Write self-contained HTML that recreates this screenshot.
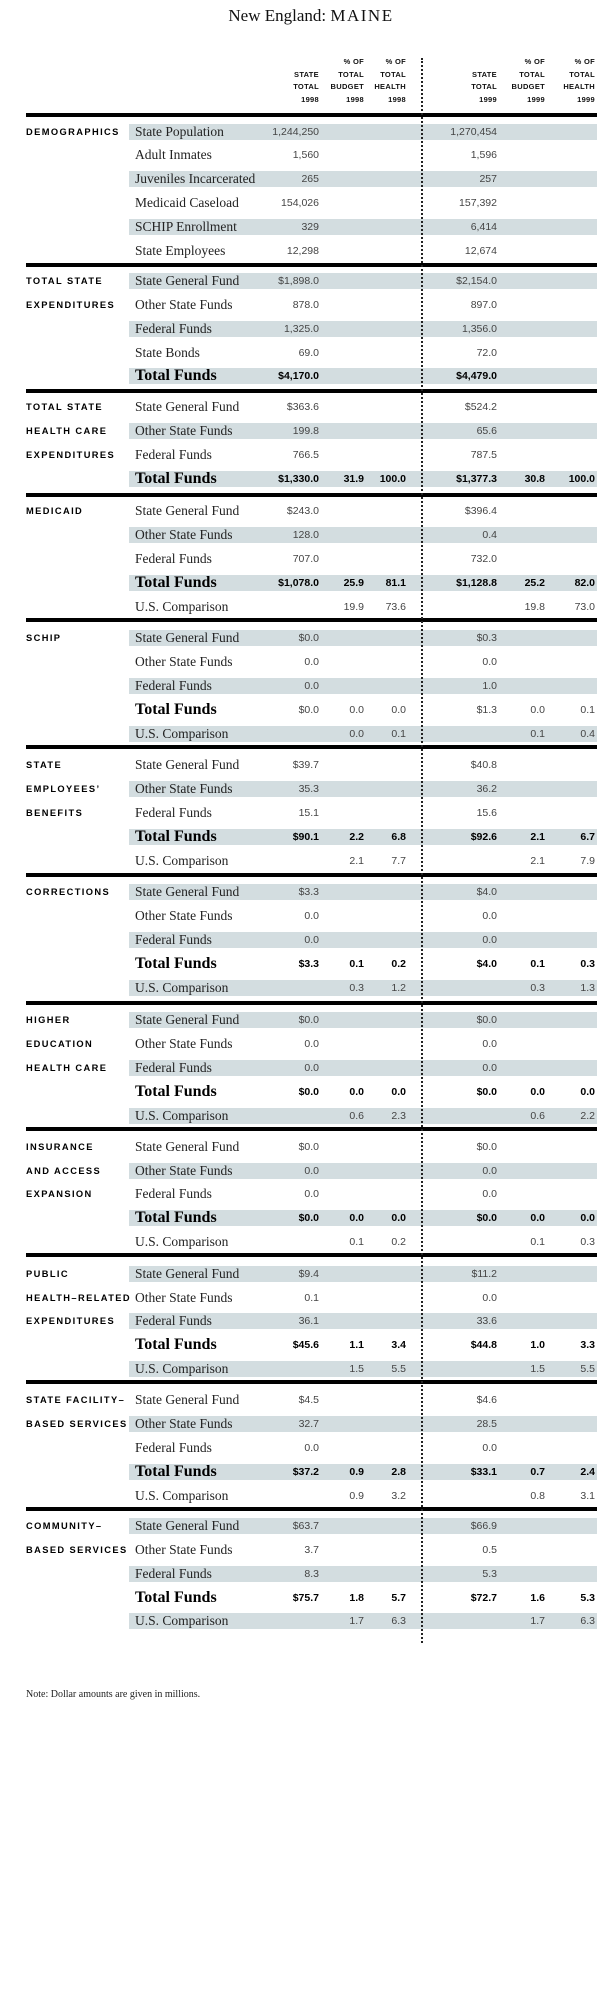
<!DOCTYPE html>
<html><head><meta charset="utf-8">
<style>
*{margin:0;padding:0;box-sizing:border-box}
body{width:603px;height:2006px;background:#fff;position:relative;overflow:hidden;font-family:"Liberation Serif",serif;color:#111}
.t{position:absolute;top:6px;left:0;width:622px;text-align:center;font-size:17px;color:#111}
.h{position:absolute;font-family:"Liberation Sans",sans-serif;font-weight:bold;font-size:7.5px;line-height:12.5px;text-align:right;letter-spacing:.3px;top:56px}
.rule{position:absolute;left:26px;width:571px;height:3.5px;background:#000}
.dot{position:absolute;left:421px;top:58px;height:1585px;border-left:2px dotted #222}
.r{position:absolute;left:129px;width:468px;height:16px;line-height:16px}
.s{background:#d3dde0}
.r span{position:absolute;top:0;font-family:"Liberation Sans",sans-serif;font-size:10.5px;color:#444;text-align:right;white-space:nowrap}
.r .l{left:6px;font-family:"Liberation Serif",serif;font-size:13.5px;color:#222;text-align:left}
.r.tot .l{font-weight:bold;font-size:16px;color:#000}
.r.tot span{font-weight:bold;color:#000}
.r.tot.nb span{font-weight:normal;color:#444}
.r.tot.nb .l{font-weight:bold;color:#000}
.a{right:278px}.b{right:233px}.c{right:191px}.d{right:100px}.e{right:52px}.f{right:2px}
.sec{position:absolute;left:26px;font-family:"Liberation Sans",sans-serif;font-weight:bold;font-size:9.3px;letter-spacing:1.4px;line-height:16px;color:#000;white-space:nowrap}
.note{position:absolute;left:26px;top:1689px;font-size:10px;color:#222}
</style></head><body>
<div class="t">New England: <span style="letter-spacing:1.5px">MAINE</span></div>
<div class="h" style="left:280px;width:39px">&nbsp;<br>STATE<br>TOTAL<br>1998</div>
<div class="h" style="left:320px;width:44px">% OF<br>TOTAL<br>BUDGET<br>1998</div>
<div class="h" style="left:364px;width:42px">% OF<br>TOTAL<br>HEALTH<br>1998</div>
<div class="h" style="left:458px;width:39px">&nbsp;<br>STATE<br>TOTAL<br>1999</div>
<div class="h" style="left:500px;width:45px">% OF<br>TOTAL<br>BUDGET<br>1999</div>
<div class="h" style="left:550px;width:45px">% OF<br>TOTAL<br>HEALTH<br>1999</div>

<div class="rule" style="top:113px"></div>
<div class="rule" style="top:263px"></div>
<div class="rule" style="top:389px"></div>
<div class="rule" style="top:493px"></div>
<div class="rule" style="top:618px"></div>
<div class="rule" style="top:745px"></div>
<div class="rule" style="top:873px"></div>
<div class="rule" style="top:1001px"></div>
<div class="rule" style="top:1127px"></div>
<div class="rule" style="top:1253px"></div>
<div class="rule" style="top:1380px"></div>
<div class="rule" style="top:1507px"></div>

<!-- DEMOGRAPHICS -->
<div class="sec" style="top:124px">DEMOGRAPHICS</div>
<div class="r s" style="top:124px"><span class="l">State Population</span><span class="a">1,244,250</span><span class="d">1,270,454</span></div>
<div class="r" style="top:147px"><span class="l">Adult Inmates</span><span class="a">1,560</span><span class="d">1,596</span></div>
<div class="r s" style="top:171px"><span class="l">Juveniles Incarcerated</span><span class="a">265</span><span class="d">257</span></div>
<div class="r" style="top:195px"><span class="l">Medicaid Caseload</span><span class="a">154,026</span><span class="d">157,392</span></div>
<div class="r s" style="top:219px"><span class="l">SCHIP Enrollment</span><span class="a">329</span><span class="d">6,414</span></div>
<div class="r" style="top:243px"><span class="l">State Employees</span><span class="a">12,298</span><span class="d">12,674</span></div>

<!-- TOTAL STATE EXPENDITURES -->
<div class="sec" style="top:273px">TOTAL STATE</div>
<div class="sec" style="top:297px">EXPENDITURES</div>
<div class="r s" style="top:273px"><span class="l">State General Fund</span><span class="a">$1,898.0</span><span class="d">$2,154.0</span></div>
<div class="r" style="top:297px"><span class="l">Other State Funds</span><span class="a">878.0</span><span class="d">897.0</span></div>
<div class="r s" style="top:321px"><span class="l">Federal Funds</span><span class="a">1,325.0</span><span class="d">1,356.0</span></div>
<div class="r" style="top:345px"><span class="l">State Bonds</span><span class="a">69.0</span><span class="d">72.0</span></div>
<div class="r s tot" style="top:368px"><span class="l">Total Funds</span><span class="a">$4,170.0</span><span class="d">$4,479.0</span></div>

<!-- HEALTH -->
<div class="sec" style="top:399px">TOTAL STATE</div>
<div class="sec" style="top:423px">HEALTH CARE</div>
<div class="sec" style="top:447px">EXPENDITURES</div>
<div class="r" style="top:399px"><span class="l">State General Fund</span><span class="a">$363.6</span><span class="d">$524.2</span></div>
<div class="r s" style="top:423px"><span class="l">Other State Funds</span><span class="a">199.8</span><span class="d">65.6</span></div>
<div class="r" style="top:447px"><span class="l">Federal Funds</span><span class="a">766.5</span><span class="d">787.5</span></div>
<div class="r s tot" style="top:471px"><span class="l">Total Funds</span><span class="a">$1,330.0</span><span class="b">31.9</span><span class="c">100.0</span><span class="d">$1,377.3</span><span class="e">30.8</span><span class="f">100.0</span></div>

<!-- MEDICAID -->
<div class="sec" style="top:503px">MEDICAID</div>
<div class="r" style="top:503px"><span class="l">State General Fund</span><span class="a">$243.0</span><span class="d">$396.4</span></div>
<div class="r s" style="top:527px"><span class="l">Other State Funds</span><span class="a">128.0</span><span class="d">0.4</span></div>
<div class="r" style="top:551px"><span class="l">Federal Funds</span><span class="a">707.0</span><span class="d">732.0</span></div>
<div class="r s tot" style="top:575px"><span class="l">Total Funds</span><span class="a">$1,078.0</span><span class="b">25.9</span><span class="c">81.1</span><span class="d">$1,128.8</span><span class="e">25.2</span><span class="f">82.0</span></div>
<div class="r" style="top:599px"><span class="l">U.S. Comparison</span><span class="b">19.9</span><span class="c">73.6</span><span class="e">19.8</span><span class="f">73.0</span></div>

<!-- SCHIP -->
<div class="sec" style="top:630px">SCHIP</div>
<div class="r s" style="top:630px"><span class="l">State General Fund</span><span class="a">$0.0</span><span class="d">$0.3</span></div>
<div class="r" style="top:654px"><span class="l">Other State Funds</span><span class="a">0.0</span><span class="d">0.0</span></div>
<div class="r s" style="top:678px"><span class="l">Federal Funds</span><span class="a">0.0</span><span class="d">1.0</span></div>
<div class="r tot nb" style="top:702px"><span class="l">Total Funds</span><span class="a">$0.0</span><span class="b">0.0</span><span class="c">0.0</span><span class="d">$1.3</span><span class="e">0.0</span><span class="f">0.1</span></div>
<div class="r s" style="top:726px"><span class="l">U.S. Comparison</span><span class="b">0.0</span><span class="c">0.1</span><span class="e">0.1</span><span class="f">0.4</span></div>

<!-- STATE EMPLOYEES -->
<div class="sec" style="top:757px">STATE</div>
<div class="sec" style="top:781px">EMPLOYEES’</div>
<div class="sec" style="top:805px">BENEFITS</div>
<div class="r" style="top:757px"><span class="l">State General Fund</span><span class="a">$39.7</span><span class="d">$40.8</span></div>
<div class="r s" style="top:781px"><span class="l">Other State Funds</span><span class="a">35.3</span><span class="d">36.2</span></div>
<div class="r" style="top:805px"><span class="l">Federal Funds</span><span class="a">15.1</span><span class="d">15.6</span></div>
<div class="r s tot" style="top:829px"><span class="l">Total Funds</span><span class="a">$90.1</span><span class="b">2.2</span><span class="c">6.8</span><span class="d">$92.6</span><span class="e">2.1</span><span class="f">6.7</span></div>
<div class="r" style="top:853px"><span class="l">U.S. Comparison</span><span class="b">2.1</span><span class="c">7.7</span><span class="e">2.1</span><span class="f">7.9</span></div>

<!-- CORRECTIONS -->
<div class="sec" style="top:884px">CORRECTIONS</div>
<div class="r s" style="top:884px"><span class="l">State General Fund</span><span class="a">$3.3</span><span class="d">$4.0</span></div>
<div class="r" style="top:908px"><span class="l">Other State Funds</span><span class="a">0.0</span><span class="d">0.0</span></div>
<div class="r s" style="top:932px"><span class="l">Federal Funds</span><span class="a">0.0</span><span class="d">0.0</span></div>
<div class="r tot" style="top:956px"><span class="l">Total Funds</span><span class="a">$3.3</span><span class="b">0.1</span><span class="c">0.2</span><span class="d">$4.0</span><span class="e">0.1</span><span class="f">0.3</span></div>
<div class="r s" style="top:980px"><span class="l">U.S. Comparison</span><span class="b">0.3</span><span class="c">1.2</span><span class="e">0.3</span><span class="f">1.3</span></div>

<!-- HIGHER ED -->
<div class="sec" style="top:1012px">HIGHER</div>
<div class="sec" style="top:1036px">EDUCATION</div>
<div class="sec" style="top:1060px">HEALTH CARE</div>
<div class="r s" style="top:1012px"><span class="l">State General Fund</span><span class="a">$0.0</span><span class="d">$0.0</span></div>
<div class="r" style="top:1036px"><span class="l">Other State Funds</span><span class="a">0.0</span><span class="d">0.0</span></div>
<div class="r s" style="top:1060px"><span class="l">Federal Funds</span><span class="a">0.0</span><span class="d">0.0</span></div>
<div class="r tot" style="top:1084px"><span class="l">Total Funds</span><span class="a">$0.0</span><span class="b">0.0</span><span class="c">0.0</span><span class="d">$0.0</span><span class="e">0.0</span><span class="f">0.0</span></div>
<div class="r s" style="top:1108px"><span class="l">U.S. Comparison</span><span class="b">0.6</span><span class="c">2.3</span><span class="e">0.6</span><span class="f">2.2</span></div>

<!-- INSURANCE -->
<div class="sec" style="top:1139px">INSURANCE</div>
<div class="sec" style="top:1163px">AND ACCESS</div>
<div class="sec" style="top:1186px">EXPANSION</div>
<div class="r" style="top:1139px"><span class="l">State General Fund</span><span class="a">$0.0</span><span class="d">$0.0</span></div>
<div class="r s" style="top:1163px"><span class="l">Other State Funds</span><span class="a">0.0</span><span class="d">0.0</span></div>
<div class="r" style="top:1186px"><span class="l">Federal Funds</span><span class="a">0.0</span><span class="d">0.0</span></div>
<div class="r s tot" style="top:1210px"><span class="l">Total Funds</span><span class="a">$0.0</span><span class="b">0.0</span><span class="c">0.0</span><span class="d">$0.0</span><span class="e">0.0</span><span class="f">0.0</span></div>
<div class="r" style="top:1234px"><span class="l">U.S. Comparison</span><span class="b">0.1</span><span class="c">0.2</span><span class="e">0.1</span><span class="f">0.3</span></div>

<!-- PUBLIC HEALTH -->
<div class="sec" style="top:1266px">PUBLIC</div>
<div class="sec" style="top:1290px">HEALTH–RELATED</div>
<div class="sec" style="top:1313px">EXPENDITURES</div>
<div class="r s" style="top:1266px"><span class="l">State General Fund</span><span class="a">$9.4</span><span class="d">$11.2</span></div>
<div class="r" style="top:1290px"><span class="l">Other State Funds</span><span class="a">0.1</span><span class="d">0.0</span></div>
<div class="r s" style="top:1313px"><span class="l">Federal Funds</span><span class="a">36.1</span><span class="d">33.6</span></div>
<div class="r tot" style="top:1337px"><span class="l">Total Funds</span><span class="a">$45.6</span><span class="b">1.1</span><span class="c">3.4</span><span class="d">$44.8</span><span class="e">1.0</span><span class="f">3.3</span></div>
<div class="r s" style="top:1361px"><span class="l">U.S. Comparison</span><span class="b">1.5</span><span class="c">5.5</span><span class="e">1.5</span><span class="f">5.5</span></div>

<!-- FACILITY -->
<div class="sec" style="top:1392px">STATE FACILITY–</div>
<div class="sec" style="top:1416px">BASED SERVICES</div>
<div class="r" style="top:1392px"><span class="l">State General Fund</span><span class="a">$4.5</span><span class="d">$4.6</span></div>
<div class="r s" style="top:1416px"><span class="l">Other State Funds</span><span class="a">32.7</span><span class="d">28.5</span></div>
<div class="r" style="top:1440px"><span class="l">Federal Funds</span><span class="a">0.0</span><span class="d">0.0</span></div>
<div class="r s tot" style="top:1464px"><span class="l">Total Funds</span><span class="a">$37.2</span><span class="b">0.9</span><span class="c">2.8</span><span class="d">$33.1</span><span class="e">0.7</span><span class="f">2.4</span></div>
<div class="r" style="top:1488px"><span class="l">U.S. Comparison</span><span class="b">0.9</span><span class="c">3.2</span><span class="e">0.8</span><span class="f">3.1</span></div>

<!-- COMMUNITY -->
<div class="sec" style="top:1518px">COMMUNITY–</div>
<div class="sec" style="top:1542px">BASED SERVICES</div>
<div class="r s" style="top:1518px"><span class="l">State General Fund</span><span class="a">$63.7</span><span class="d">$66.9</span></div>
<div class="r" style="top:1542px"><span class="l">Other State Funds</span><span class="a">3.7</span><span class="d">0.5</span></div>
<div class="r s" style="top:1566px"><span class="l">Federal Funds</span><span class="a">8.3</span><span class="d">5.3</span></div>
<div class="r tot" style="top:1590px"><span class="l">Total Funds</span><span class="a">$75.7</span><span class="b">1.8</span><span class="c">5.7</span><span class="d">$72.7</span><span class="e">1.6</span><span class="f">5.3</span></div>
<div class="r s" style="top:1613px"><span class="l">U.S. Comparison</span><span class="b">1.7</span><span class="c">6.3</span><span class="e">1.7</span><span class="f">6.3</span></div>

<div class="dot"></div>
<div class="note">Note: Dollar amounts are given in millions.</div>
</body></html>
